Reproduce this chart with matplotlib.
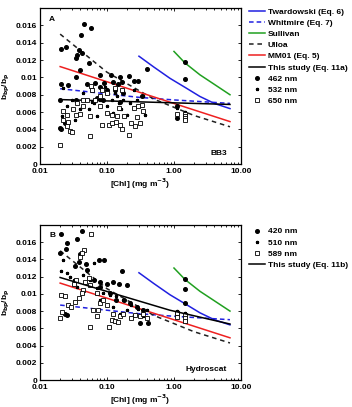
import numpy as np
import matplotlib.pyplot as plt
from matplotlib.ticker import FixedLocator, NullFormatter

plt.rcParams['font.family'] = ['Liberation Sans', 'DejaVu Sans']
plt.rcParams['font.weight'] = 'bold'

# ---- model curves ----
tw_x = [0.30, 0.50, 0.87, 1.5, 2.44, 4.0, 6.85]
tw_y = [0.01245, 0.0112, 0.0099, 0.0088, 0.0078, 0.0070, 0.0064]
wh_x = [0.02, 0.1, 0.3, 1.0, 6.85]
wh_y = [0.0087, 0.0081, 0.0077, 0.0074, 0.0070]
su_x = [1.0, 1.46, 2.44, 4.0, 6.85]
su_y = [0.0130, 0.01167, 0.0103, 0.0092, 0.0080]
ul_x = [0.02, 0.1, 0.5, 2.0, 6.85]
ul_y = [0.0150, 0.0106, 0.0075, 0.0056, 0.0043]
mm_x = [0.02, 6.85]
mm_y = [0.01125, 0.0049]
s11a_x = [0.02, 6.85]
s11a_y = [0.00744, 0.00688]
s11b_x = [0.02, 0.87, 6.85]
s11b_y = [0.0119, 0.0081, 0.0065]

# ---- panel A (BB3) ----
a462_x = [0.0206, 0.0242, 0.041, 0.045, 0.058, 0.038, 0.036, 0.042, 0.035, 0.054, 0.039, 0.035,
          0.40, 0.079, 0.115, 0.157, 0.21, 0.25, 0.29, 0.0206, 0.026, 0.051, 0.066, 0.090, 0.124,
          0.147, 0.17, 0.08, 0.10, 0.132, 0.175, 0.33, 0.02, 0.035, 0.07, 0.088, 0.157, 0.02,
          0.0206, 0.0236, 1.46, 1.46, 1.12, 1.12]
a462_y = [0.01326, 0.0135, 0.0149, 0.0162, 0.0157, 0.0132, 0.0126, 0.0128, 0.0122, 0.0117, 0.0108,
          0.0100, 0.0110, 0.0103, 0.0103, 0.0100, 0.0102, 0.0096, 0.0096, 0.0092, 0.0091, 0.0092,
          0.0094, 0.0094, 0.0095, 0.0092, 0.0095, 0.0089, 0.0085, 0.0086, 0.0082, 0.0078, 0.0074,
          0.0074, 0.0076, 0.0074, 0.0072, 0.0042, 0.0040, 0.0047, 0.0118, 0.0098, 0.00672, 0.00537]
a532_x = [0.021, 0.025, 0.03, 0.04, 0.053, 0.063, 0.079, 0.10, 0.117, 0.14, 0.175, 0.22, 0.28,
          0.35, 0.033, 0.07, 0.124, 0.16, 0.20, 0.37, 0.044, 0.095, 0.13, 0.25, 0.022, 0.06,
          0.15, 1.12, 1.46]
a532_y = [0.0055, 0.0067, 0.0074, 0.0063, 0.0063, 0.0070, 0.0074, 0.0067, 0.0074, 0.0078, 0.0074,
          0.0070, 0.0074, 0.0078, 0.0051, 0.0055, 0.0059, 0.0063, 0.0057, 0.0057, 0.0082, 0.0089,
          0.0082, 0.0086, 0.0088, 0.0072, 0.0070, 0.0065, 0.0060]
a650_x = [0.02, 0.055, 0.028, 0.03, 0.025, 0.035, 0.04, 0.055, 0.031, 0.044, 0.05, 0.059, 0.066,
          0.079, 0.083, 0.108, 0.12, 0.137, 0.157, 0.17, 0.21, 0.23, 0.26, 0.31, 0.10, 0.117, 0.14,
          0.18, 0.15, 0.25, 0.29, 0.33, 0.35, 0.28, 0.079, 0.10, 0.083, 0.132, 0.165, 0.057, 0.022,
          0.025, 0.022, 0.026, 0.036, 0.044, 1.12, 1.46, 1.46, 1.46, 1.46]
a650_y = [0.0022, 0.0032, 0.0038, 0.0037, 0.0044, 0.0057, 0.0058, 0.0055, 0.0063, 0.0067, 0.0074,
          0.0086, 0.0074, 0.0067, 0.0045, 0.0045, 0.0047, 0.0048, 0.0045, 0.0040, 0.0034, 0.0047,
          0.0044, 0.0047, 0.0059, 0.0057, 0.0055, 0.0055, 0.0065, 0.0065, 0.0067, 0.0068, 0.0061,
          0.0054, 0.0078, 0.0082, 0.0086, 0.0088, 0.0086, 0.0090, 0.0061, 0.0057, 0.0051, 0.0049,
          0.0070, 0.0074, 0.0058, 0.0058, 0.0056, 0.0053, 0.0051]

# ---- panel B (Hydroscat) ----
b420_x = [0.0206, 0.025, 0.036, 0.042, 0.0245, 0.039, 0.038, 0.049, 0.077, 0.091, 0.165, 0.02,
          0.033, 0.05, 0.063, 0.079, 0.10, 0.124, 0.15, 0.196, 0.079, 0.11, 0.134, 0.18, 0.22,
          0.28, 0.35, 0.31, 0.41, 0.024, 0.025, 1.46, 1.46, 1.46, 1.12, 1.12]
b420_y = [0.01693, 0.01596, 0.01639, 0.01724, 0.0152, 0.01465, 0.01375, 0.01344, 0.01391, 0.01391,
          0.01267, 0.0148, 0.0132, 0.0128, 0.0116, 0.0114, 0.0112, 0.0114, 0.0112, 0.0110, 0.0108,
          0.0101, 0.0093, 0.0093, 0.0089, 0.0085, 0.0081, 0.0066, 0.0066, 0.0077, 0.0076, 0.01174,
          0.01055, 0.00892, 0.00787, 0.0076]
b510_x = [0.0206, 0.025, 0.028, 0.032, 0.044, 0.055, 0.07, 0.087, 0.11, 0.134, 0.175, 0.23, 0.29,
          0.39, 0.079, 0.124, 0.196, 0.063, 0.05, 0.022, 0.036, 0.157, 0.25, 0.35, 1.12, 1.46]
b510_y = [0.01267, 0.0124, 0.0120, 0.0116, 0.0122, 0.0116, 0.0107, 0.0101, 0.0099, 0.0097, 0.0093,
          0.0087, 0.0083, 0.0081, 0.0093, 0.0085, 0.0081, 0.0136, 0.0128, 0.0139, 0.0108, 0.0077,
          0.0076, 0.0074, 0.0080, 0.0078]
b589_x = [0.058, 0.045, 0.042, 0.039, 0.02, 0.0204, 0.024, 0.021, 0.026, 0.029, 0.033, 0.038, 0.044,
          0.056, 0.07, 0.073, 0.062, 0.079, 0.087, 0.10, 0.108, 0.117, 0.13, 0.148, 0.157, 0.124,
          0.175, 0.23, 0.26, 0.31, 0.35, 0.39, 0.047, 0.055, 0.035, 0.032, 0.042, 0.07, 0.053,
          1.12, 1.12, 1.46, 1.46, 1.46]
b589_y = [0.01693, 0.0151, 0.0147, 0.0143, 0.0072, 0.0099, 0.0097, 0.0079, 0.0087, 0.0085, 0.0091,
          0.0095, 0.0105, 0.0062, 0.0074, 0.0081, 0.0081, 0.0089, 0.0093, 0.0087, 0.0062, 0.0070,
          0.0068, 0.0067, 0.0074, 0.0077, 0.0077, 0.0072, 0.0076, 0.0074, 0.0077, 0.0072, 0.0114,
          0.0110, 0.0116, 0.0112, 0.0101, 0.0101, 0.0118, 0.0078, 0.0073, 0.0076, 0.0072, 0.0068]

xticks = [0.01, 0.1, 1, 10]
xtick_labels = ['0.01', '0.10', '1.00', '10.00']
yticks = [0, 0.002, 0.004, 0.006, 0.008, 0.01, 0.012, 0.014, 0.016]
ytick_labels = ['0', '0.002', '0.004', '0.006', '0.008', '0.01', '0.012', '0.014', '0.016']

fs = 6
fig = plt.figure(figsize=(3.52, 4.07), dpi=100)
axA = fig.add_axes([0.1136, 0.597, 0.571, 0.383])
axB = fig.add_axes([0.1136, 0.0663, 0.571, 0.381])


def model_lines(ax):
    h = []
    h += ax.plot(tw_x, tw_y, color='#2020e0', lw=1.1, label='Twardowski (Eq. 6)')
    h += ax.plot(wh_x, wh_y, color='#2020e0', lw=1.1, ls=(0, (3, 2)), label='Whitmire (Eq. 7)')
    h += ax.plot(su_x, su_y, color='#20a020', lw=1.1, label='Sullivan')
    h += ax.plot(ul_x, ul_y, color='#202020', lw=1.1, ls=(0, (3, 2.5)), label='Ulloa')
    h += ax.plot(mm_x, mm_y, color='#ee2020', lw=1.1, label='MM01 (Eq. 5)')
    return h


def style(ax, letter, tag):
    ax.set_xscale('log')
    ax.set_xlim(0.01, 10)
    ax.set_ylim(0, 0.018)
    ax.xaxis.set_major_locator(FixedLocator(xticks))
    ax.set_xticklabels(xtick_labels)
    ax.xaxis.set_minor_formatter(NullFormatter())
    ax.set_yticks(yticks)
    ax.set_yticklabels(ytick_labels)
    ax.tick_params(which='both', direction='in', top=True, right=True, labelsize=fs,
                   length=2.5, width=0.6, pad=2)
    ax.tick_params(axis='x', pad=2.8)
    ax.tick_params(which='minor', length=1.5)
    for s in ax.spines.values():
        s.set_linewidth(0.9)
    ax.set_xlabel('[Chl] (mg m$^{\\mathbf{-3}}$)', fontsize=fs, fontweight='bold', labelpad=1)
    ax.set_ylabel('b$_{\\mathbf{bp}}$/b$_{\\mathbf{p}}$', fontsize=fs, fontweight='bold', labelpad=3)
    ax.text(0.045, 0.93, letter, transform=ax.transAxes, fontsize=fs, fontweight='bold', va='center')
    ax.text(0.93, 0.045, tag, transform=ax.transAxes, fontsize=fs, fontweight='bold',
            ha='right', va='bottom')


# panel A
hA = model_lines(axA)
hA += axA.plot(s11a_x, s11a_y, color='black', lw=1.1, label='This study (Eq. 11a)')
hA += axA.plot(a462_x, a462_y, ls='none', marker='o', ms=2.6, color='black', label='462 nm')
hA += axA.plot(a532_x, a532_y, ls='none', marker='*', ms=2.2, color='black', label='532 nm')
hA += axA.plot(a650_x, a650_y, ls='none', marker='s', ms=3, mfc='white', mec='black', mew=0.6,
               label='650 nm')
style(axA, 'A', 'BB3')
fig.legend(handles=hA, loc='upper left', bbox_to_anchor=(0.69, 0.995), frameon=False,
           fontsize=fs, handlelength=2.0, handletextpad=0.3, labelspacing=0.4, borderpad=0.2)

# panel B
model_lines(axB)
hB = []
hB += axB.plot(b420_x, b420_y, ls='none', marker='o', ms=2.6, color='black', label='420 nm')
hB += axB.plot(b510_x, b510_y, ls='none', marker='*', ms=2.2, color='black', label='510 nm')
hB += axB.plot(b589_x, b589_y, ls='none', marker='s', ms=3, mfc='white', mec='black', mew=0.6,
               label='589 nm')
hB += axB.plot(s11b_x, s11b_y, color='black', lw=1.1, label='This study (Eq. 11b)')
style(axB, 'B', 'Hydroscat')
fig.legend(handles=hB, loc='upper left', bbox_to_anchor=(0.69, 0.455), frameon=False,
           fontsize=fs, handlelength=2.0, handletextpad=0.3, labelspacing=0.4, borderpad=0.2)

fig.savefig('out.png', dpi=100)
